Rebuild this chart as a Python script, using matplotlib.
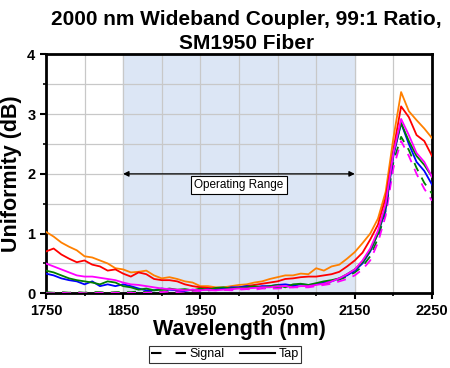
import numpy as np
import matplotlib
matplotlib.use('Agg')
import matplotlib.pyplot as plt
from matplotlib.lines import Line2D

plt.rcParams['font.family'] = ['Liberation Sans', 'DejaVu Sans']

wl = np.arange(1750, 2251, 10)

tap_orange = [1.03, 0.95, 0.85, 0.78, 0.72, 0.62, 0.60, 0.55, 0.50, 0.42,
              0.40, 0.35, 0.36, 0.38, 0.30, 0.25, 0.27, 0.24, 0.20, 0.18,
              0.12, 0.12, 0.10, 0.10, 0.12, 0.14, 0.15, 0.18, 0.20, 0.24,
              0.27, 0.30, 0.30, 0.33, 0.32, 0.42, 0.38, 0.45, 0.48, 0.58,
              0.69, 0.84, 1.00, 1.25, 1.70, 2.60, 3.37, 3.05, 2.90, 2.76, 2.60]
tap_red = [0.70, 0.75, 0.65, 0.58, 0.52, 0.55, 0.48, 0.45, 0.38, 0.40,
           0.33, 0.28, 0.35, 0.32, 0.24, 0.22, 0.22, 0.20, 0.15, 0.12,
           0.10, 0.09, 0.08, 0.08, 0.09, 0.10, 0.12, 0.14, 0.16, 0.18,
           0.20, 0.24, 0.25, 0.27, 0.28, 0.28, 0.30, 0.32, 0.36, 0.45,
           0.55, 0.68, 0.90, 1.15, 1.60, 2.40, 3.13, 2.95, 2.65, 2.55, 2.30]
tap_blue = [0.33, 0.30, 0.25, 0.22, 0.20, 0.15, 0.20, 0.12, 0.15, 0.12,
            0.15, 0.12, 0.08, 0.05, 0.05, 0.08, 0.06, 0.05, 0.04, 0.06,
            0.05, 0.07, 0.06, 0.08, 0.10, 0.10, 0.12, 0.10, 0.12, 0.12,
            0.14, 0.15, 0.13, 0.15, 0.14, 0.15, 0.18, 0.20, 0.25, 0.30,
            0.38, 0.50, 0.70, 1.00, 1.40, 2.30, 2.85, 2.50, 2.20, 2.05, 1.82]
tap_green = [0.38, 0.35, 0.30, 0.25, 0.22, 0.20, 0.18, 0.15, 0.20, 0.18,
             0.12, 0.10, 0.06, 0.08, 0.05, 0.06, 0.08, 0.06, 0.07, 0.05,
             0.08, 0.06, 0.09, 0.10, 0.08, 0.09, 0.10, 0.12, 0.10, 0.12,
             0.14, 0.10, 0.15, 0.16, 0.14, 0.17, 0.20, 0.22, 0.25, 0.32,
             0.40, 0.52, 0.72, 1.00, 1.45, 2.35, 2.85, 2.55, 2.30, 2.15, 1.95]
tap_magenta = [0.50, 0.45, 0.40, 0.35, 0.30, 0.28, 0.28, 0.26, 0.24, 0.22,
               0.18, 0.15, 0.14, 0.12, 0.10, 0.08, 0.07, 0.06, 0.05, 0.06,
               0.05, 0.06, 0.05, 0.06, 0.07, 0.08, 0.08, 0.09, 0.10, 0.10,
               0.12, 0.12, 0.10, 0.12, 0.12, 0.14, 0.16, 0.20, 0.25, 0.32,
               0.40, 0.55, 0.75, 1.05, 1.50, 2.35, 2.92, 2.65, 2.35, 2.20, 1.95]
sig_magenta = [0.00, 0.00, 0.01, 0.00, 0.01, 0.00, 0.00, 0.01, 0.00, 0.01,
               0.00, 0.01, 0.00, 0.01, 0.02, 0.02, 0.03, 0.02, 0.03, 0.04,
               0.04, 0.05, 0.05, 0.06, 0.05, 0.06, 0.07, 0.06, 0.08, 0.08,
               0.08, 0.09, 0.10, 0.10, 0.10, 0.12, 0.14, 0.16, 0.20, 0.24,
               0.30, 0.40, 0.55, 0.85, 1.30, 2.10, 2.55, 2.30, 2.00, 1.75, 1.55]
sig_green = [0.02, 0.01, 0.02, 0.01, 0.02, 0.01, 0.02, 0.02, 0.01, 0.02,
             0.02, 0.02, 0.03, 0.02, 0.03, 0.03, 0.04, 0.03, 0.04, 0.05,
             0.05, 0.05, 0.06, 0.06, 0.07, 0.07, 0.08, 0.08, 0.09, 0.09,
             0.10, 0.10, 0.11, 0.12, 0.12, 0.14, 0.16, 0.19, 0.23, 0.28,
             0.35, 0.45, 0.62, 0.92, 1.38, 2.20, 2.62, 2.40, 2.10, 1.85, 1.67]

tap = [('#ff8000', tap_orange), ('#ff0000', tap_red), ('#0000ff', tap_blue),
       ('#008000', tap_green), ('#ff00ff', tap_magenta)]
sig = [('#008000', sig_green), ('#ff00ff', sig_magenta)]

fig = plt.figure(figsize=(4.5, 3.68), dpi=100)
ax = fig.add_axes([0.102, 0.203, 0.858, 0.649])

ax.axvspan(1850, 2150, color='#dce6f5', zorder=0)
for c, y in sig:
    ax.plot(wl, y, color=c, lw=1.3, ls=(0, (5, 4)), zorder=3)
for c, y in tap:
    ax.plot(wl, y, color=c, lw=1.3, zorder=3)

ax.annotate('', xy=(1850, 2), xytext=(2150, 2),
            arrowprops=dict(arrowstyle='<|-|>', color='black', lw=0.9,
                            mutation_scale=8, shrinkA=0, shrinkB=0), zorder=4)
ax.text(2000, 1.82, 'Operating Range', ha='center', va='center', fontsize=8.5,
        bbox=dict(boxstyle='square,pad=0.25', fc='white', ec='black', lw=0.8), zorder=5)

ax.set_xlim(1750, 2250)
ax.set_ylim(0, 4)
ax.set_xticks(np.arange(1750, 2251, 100))
ax.set_xticks(np.arange(1750, 2251, 50), minor=True)
ax.set_yticks(np.arange(0, 4.1, 1))
ax.set_yticks(np.arange(0, 4.1, 0.5), minor=True)
ax.grid(True, which='both', color='#c8c8c8', lw=0.9, zorder=1)
ax.set_axisbelow(True)
for s in ax.spines.values():
    s.set_linewidth(2)
ax.tick_params(which='major', direction='out', length=4, width=1.5, labelsize=10.5)
ax.tick_params(which='minor', direction='out', length=2.5, width=1.2)
for lab in ax.get_xticklabels() + ax.get_yticklabels():
    lab.set_fontweight('bold')

ax.set_xlabel('Wavelength (nm)', fontsize=15.5, fontweight='bold', labelpad=1)
ax.set_ylabel('Uniformity (dB)', fontsize=15.5, fontweight='bold', labelpad=4)
ax.set_title('2000 nm Wideband Coupler, 99:1 Ratio,\nSM1950 Fiber',
             fontsize=15, fontweight='bold', pad=4, x=0.52, linespacing=1.3)

handles = [Line2D([], [], color='black', lw=1.5, ls=(0, (5, 6.8))),
           Line2D([], [], color='black', lw=1.5)]
fig.legend(handles, ['Signal', 'Tap'], loc='center', bbox_to_anchor=(0.5, 0.037),
           ncol=2, fontsize=9, frameon=True, fancybox=False, edgecolor='black',
           handlelength=2.8, handletextpad=0.3, columnspacing=1.2,
           borderpad=0.2).get_frame().set_linewidth(0.8)

fig.savefig('out.png', dpi=100)
